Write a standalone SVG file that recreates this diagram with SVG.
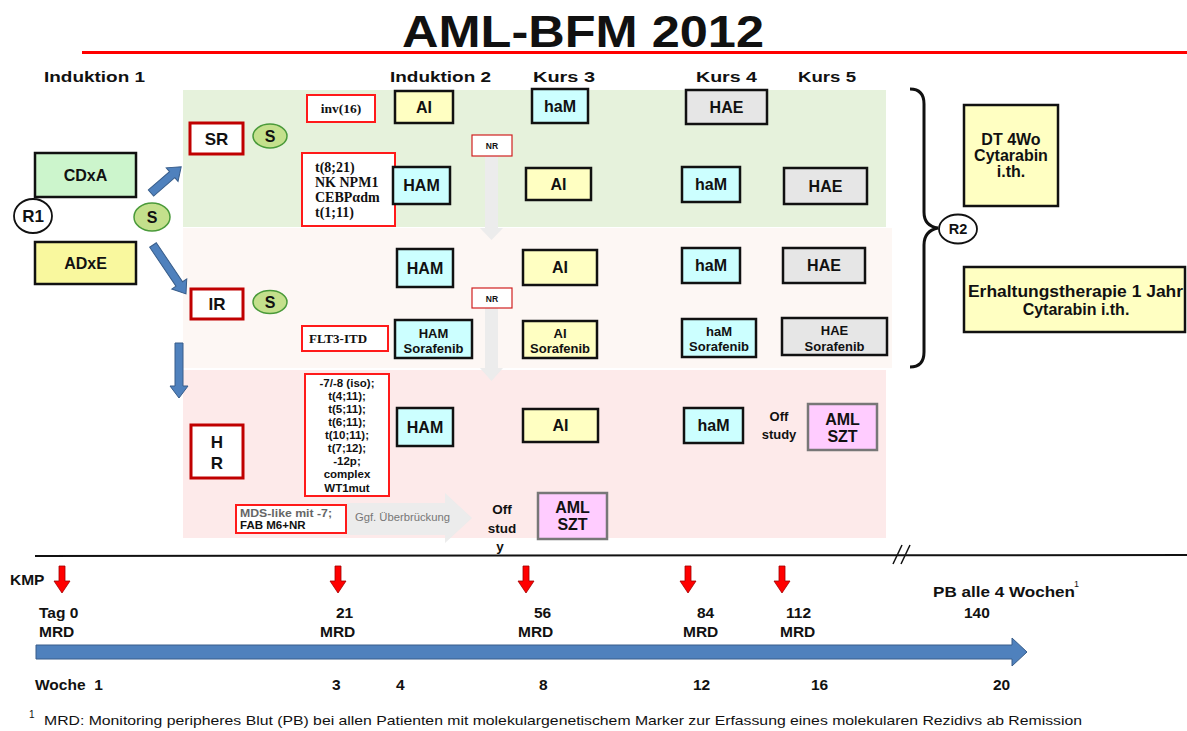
<svg xmlns="http://www.w3.org/2000/svg" width="1187" height="731" viewBox="0 0 1187 731">
<defs>
<style>
.b{font-family:"Liberation Sans",Arial,sans-serif;font-weight:bold;fill:#111}
.sf{font-family:"Liberation Serif","Times New Roman",serif;font-weight:bold;fill:#111}
.n{font-family:"Liberation Sans",Arial,sans-serif;fill:#111}
.tb{stroke:#111;stroke-width:2.5}
.cy{fill:#ccffff}
.ye{fill:#ffffc2}
.gr{fill:#e6e6e6}
.pk{fill:#ffccff;stroke:#777;stroke-width:2.5}
.rb{fill:#fff;stroke:#ff1a1a;stroke-width:2}
.db{fill:#fff;stroke:#c00000;stroke-width:3}
.sc{fill:#c4e08c;stroke:#4a9a3a;stroke-width:1.5}
.rc{fill:#fff;stroke:#111;stroke-width:1.8}
.ba{fill:#4f81bd;stroke:#385d8a;stroke-width:1}
.ra{fill:#ff0000;stroke:#a00000;stroke-width:0.8}
.ga{fill:#ececec}
.tl{font-size:15.5px}
</style>
</defs>
<rect width="1187" height="731" fill="#fff"/>

<!-- title -->
<text class="b" x="402" y="47" font-size="45" textLength="362" lengthAdjust="spacingAndGlyphs">AML-BFM 2012</text>
<line x1="82" y1="52.5" x2="1187" y2="52.5" stroke="#ff0000" stroke-width="3"/>

<!-- headers -->
<g id="headers">
<text class="b" x="44" y="82" font-size="15.5" textLength="101" lengthAdjust="spacingAndGlyphs">Induktion 1</text>
<text class="b" x="390" y="82" font-size="15.5" textLength="101" lengthAdjust="spacingAndGlyphs">Induktion 2</text>
<text class="b" x="533" y="82" font-size="15.5" textLength="62" lengthAdjust="spacingAndGlyphs">Kurs 3</text>
<text class="b" x="696" y="82" font-size="15.5" textLength="61" lengthAdjust="spacingAndGlyphs">Kurs 4</text>
<text class="b" x="798" y="82" font-size="15.5" textLength="58" lengthAdjust="spacingAndGlyphs">Kurs 5</text>
</g>

<!-- bands -->
<rect x="183" y="90" width="703" height="137" fill="#e6f2dc"/>
<rect x="183" y="228" width="709" height="140" fill="#fdf7f4"/>
<rect x="183" y="370" width="703" height="168" fill="#fdeaea"/>

<!-- connectors -->
<g id="connectors">
<polygon class="ba" points="0,-4 28,-4 28,-9 40,0 28,9 28,4 0,4" transform="translate(151,193) rotate(-41)"/>
<polygon class="ba" points="0,-4 47,-4 47,-9 59,0 47,9 47,4 0,4" transform="translate(153,245) rotate(56)"/>
<polygon class="ba" points="0,-4 43,-4 43,-9 55,0 43,9 43,4 0,4" transform="translate(179,343) rotate(90)"/>
<polygon class="ga" points="485,156 498,156 498,228 503,228 491.5,240 480,228 485,228"/>
<polygon class="ga" points="485,308 498,308 498,368 503,368 491.5,381 480,368 485,368"/>
<polygon class="ga" points="347,503 445,503 445,493 472,518 445,543 445,535 347,535"/>
<path d="M910 89 Q924 89 924 104 L924 212 Q924 226 938 228 Q924 231 924 245 L924 352 Q924 367 910 367" fill="none" stroke="#111" stroke-width="3"/>
</g>

<!-- induction 1 -->
<g id="R1"><ellipse class="rc" cx="33" cy="216" rx="19" ry="17"/><text class="b" x="33" y="222" font-size="17" text-anchor="middle">R1</text></g>
<g id="CDxA"><rect class="tb" x="35" y="153" width="101" height="44" fill="#ccf5cc"/><text class="b" x="85.5" y="181" font-size="16" text-anchor="middle">CDxA</text></g>
<g id="ADxE"><rect class="tb" x="35" y="242" width="101" height="42" fill="#f9f89e"/><text class="b" x="85.5" y="269" font-size="16" text-anchor="middle">ADxE</text></g>
<g id="S0"><ellipse class="sc" cx="152" cy="217" rx="18" ry="14"/><text class="b" x="152" y="223" font-size="16" text-anchor="middle">S</text></g>

<!-- risk groups -->
<g id="SR"><rect class="db" x="190" y="123" width="53" height="31"/><text class="b" x="216.5" y="145" font-size="17" text-anchor="middle">SR</text></g>
<g id="S1"><ellipse class="sc" cx="270" cy="136" rx="17" ry="12"/><text class="b" x="270" y="142" font-size="16" text-anchor="middle">S</text></g>
<g id="IR"><rect class="db" x="191" y="289" width="52" height="30"/><text class="b" x="217" y="310" font-size="17" text-anchor="middle">IR</text></g>
<g id="S2"><ellipse class="sc" cx="270" cy="302" rx="17" ry="11.5"/><text class="b" x="270" y="308" font-size="16" text-anchor="middle">S</text></g>
<g id="HR"><rect class="db" x="191" y="425" width="52" height="53"/><text class="b" x="217" y="448" font-size="17" text-anchor="middle">H</text><text class="b" x="217" y="469" font-size="17" text-anchor="middle">R</text></g>

<!-- markers -->
<g id="inv16"><rect class="rb" x="307" y="95" width="68" height="27"/><text class="sf" x="341" y="113" font-size="13.5" text-anchor="middle">inv(16)</text></g>
<g id="sr-markers"><rect class="rb" x="302" y="153" width="93" height="73"/>
<text class="sf" x="315" y="172" font-size="14">t(8;21)</text>
<text class="sf" x="315" y="187" font-size="14">NK NPM1</text>
<text class="sf" x="315" y="202" font-size="14">CEBPαdm</text>
<text class="sf" x="315" y="217" font-size="14">t(1;11)</text></g>
<g id="flt3"><rect class="rb" x="302" y="326" width="86" height="25"/><text class="sf" x="309" y="343" font-size="13">FLT3-ITD</text></g>
<g id="hr-markers"><rect class="rb" x="305" y="374" width="84" height="122"/>
<g class="b" font-size="11.5" text-anchor="middle">
<text x="347" y="387">-7/-8  (iso);</text>
<text x="347" y="400">t(4;11);</text>
<text x="347" y="413">t(5;11);</text>
<text x="347" y="426">t(6;11);</text>
<text x="347" y="439">t(10;11);</text>
<text x="347" y="452">t(7;12);</text>
<text x="347" y="465">-12p;</text>
<text x="347" y="478">complex</text>
<text x="347" y="492">WT1mut</text>
</g></g>
<g id="mds"><rect class="rb" x="236" y="505" width="110" height="28"/>
<text class="b" x="240" y="517" font-size="11.5" style="fill:#666" textLength="92" lengthAdjust="spacingAndGlyphs">MDS-like mit -7;</text>
<text class="b" x="240" y="529" font-size="11.5">FAB  M6+NR</text></g>
<text class="n" x="355" y="521" font-size="11" style="fill:#777" textLength="95" lengthAdjust="spacingAndGlyphs">Ggf. Überbrückung</text>

<!-- NR -->
<g id="NR1"><rect x="472" y="135" width="40" height="21" fill="#fff" stroke="#d02020" stroke-width="1.2"/><text class="b" x="492" y="149" font-size="8.5" text-anchor="middle">NR</text></g>
<g id="NR2"><rect x="472" y="288" width="40" height="20" fill="#fff" stroke="#d02020" stroke-width="1.2"/><text class="b" x="492" y="302" font-size="8.5" text-anchor="middle">NR</text></g>

<!-- SR treatments -->
<g id="sr-ai"><rect class="tb ye" x="395" y="91" width="58" height="32"/><text class="b" x="424" y="113" font-size="16" text-anchor="middle">AI</text></g>
<g id="sr-ham1"><rect class="tb cy" x="532" y="89" width="56" height="34"/><text class="b" x="560" y="112" font-size="16" text-anchor="middle">haM</text></g>
<g id="sr-hae1"><rect class="tb gr" x="686" y="90" width="81" height="34"/><text class="b" x="726.5" y="113" font-size="16" text-anchor="middle">HAE</text></g>
<g id="sr-HAM"><rect class="tb cy" x="393" y="167" width="57" height="37"/><text class="b" x="421.5" y="191" font-size="16" text-anchor="middle">HAM</text></g>
<g id="sr-ai2"><rect class="tb ye" x="526" y="168" width="65" height="32"/><text class="b" x="558.5" y="190" font-size="16" text-anchor="middle">AI</text></g>
<g id="sr-ham2"><rect class="tb cy" x="682" y="167" width="58" height="35"/><text class="b" x="711" y="190" font-size="16" text-anchor="middle">haM</text></g>
<g id="sr-hae2"><rect class="tb gr" x="784" y="168" width="83" height="36"/><text class="b" x="825.5" y="192" font-size="16" text-anchor="middle">HAE</text></g>

<!-- IR treatments -->
<g id="ir-HAM"><rect class="tb cy" x="397" y="249" width="56" height="38"/><text class="b" x="425" y="274" font-size="16" text-anchor="middle">HAM</text></g>
<g id="ir-ai"><rect class="tb ye" x="523" y="250" width="74" height="35"/><text class="b" x="560" y="273" font-size="16" text-anchor="middle">AI</text></g>
<g id="ir-ham"><rect class="tb cy" x="682" y="248" width="58" height="35"/><text class="b" x="711" y="271" font-size="16" text-anchor="middle">haM</text></g>
<g id="ir-hae"><rect class="tb gr" x="783" y="248" width="82" height="35"/><text class="b" x="824" y="271" font-size="16" text-anchor="middle">HAE</text></g>
<g id="ir-HAM-s"><rect class="tb cy" x="395" y="320" width="77" height="38"/><text class="b" x="433.5" y="338" font-size="13" text-anchor="middle">HAM</text><text class="b" x="433.5" y="353" font-size="13" text-anchor="middle">Sorafenib</text></g>
<g id="ir-ai-s"><rect class="tb ye" x="523" y="321" width="74" height="37"/><text class="b" x="560" y="338" font-size="13" text-anchor="middle">AI</text><text class="b" x="560" y="353" font-size="13" text-anchor="middle">Sorafenib</text></g>
<g id="ir-ham-s"><rect class="tb cy" x="682" y="319" width="74" height="38"/><text class="b" x="719" y="336" font-size="13" text-anchor="middle">haM</text><text class="b" x="719" y="351" font-size="13" text-anchor="middle">Sorafenib</text></g>
<g id="ir-hae-s"><rect class="tb gr" x="782" y="318" width="105" height="37"/><text class="b" x="834.5" y="335" font-size="13" text-anchor="middle">HAE</text><text class="b" x="834.5" y="351" font-size="13" text-anchor="middle">Sorafenib</text></g>

<!-- HR treatments -->
<g id="hr-HAM"><rect class="tb cy" x="397" y="408" width="56" height="38"/><text class="b" x="425" y="433" font-size="16" text-anchor="middle">HAM</text></g>
<g id="hr-ai"><rect class="tb ye" x="523" y="409" width="75" height="33"/><text class="b" x="560.5" y="431" font-size="16" text-anchor="middle">AI</text></g>
<g id="hr-ham"><rect class="tb cy" x="684" y="408" width="59" height="35"/><text class="b" x="713.5" y="431" font-size="16" text-anchor="middle">haM</text></g>
<g id="offstudy1"><text class="b" x="779" y="421" font-size="13" text-anchor="middle">Off</text><text class="b" x="779" y="439" font-size="13" text-anchor="middle">study</text></g>
<g id="aml-szt1"><rect class="pk" x="808" y="404" width="69" height="46"/><text class="b" x="842.5" y="425" font-size="16" text-anchor="middle">AML</text><text class="b" x="842.5" y="442" font-size="16" text-anchor="middle">SZT</text></g>
<g id="offstudy2"><text class="b" x="502" y="514" font-size="13.5" text-anchor="middle">Off</text><text class="b" x="502" y="533" font-size="13.5" text-anchor="middle">stud</text><text class="b" x="500" y="551" font-size="13.5" text-anchor="middle">y</text></g>
<g id="aml-szt2"><rect class="pk" x="538" y="493" width="69" height="46"/><text class="b" x="572.5" y="513" font-size="16" text-anchor="middle">AML</text><text class="b" x="572.5" y="530" font-size="16" text-anchor="middle">SZT</text></g>

<!-- R2 -->
<g id="R2"><ellipse class="rc" cx="958" cy="229" rx="19" ry="14.5"/><text class="b" x="958" y="234" font-size="14.5" text-anchor="middle">R2</text></g>
<g id="DT"><rect class="tb ye" x="964" y="105" width="94" height="101"/>
<text class="b" x="1011" y="145" font-size="16" text-anchor="middle">DT 4Wo</text>
<text class="b" x="1011" y="161" font-size="16" text-anchor="middle">Cytarabin</text>
<text class="b" x="1011" y="177" font-size="16" text-anchor="middle">i.th.</text></g>
<g id="Erhaltung"><rect class="tb ye" x="964" y="267" width="221" height="65"/>
<text class="b" x="968" y="297" font-size="16" textLength="215" lengthAdjust="spacingAndGlyphs">Erhaltungstherapie 1 Jahr</text>
<text class="b" x="1076" y="315" font-size="16" text-anchor="middle">Cytarabin  i.th.</text></g>

<!-- timeline -->
<g id="timeline">
<line x1="35" y1="556" x2="1187" y2="555" stroke="#111" stroke-width="2"/>
<line x1="893" y1="564" x2="902" y2="545" stroke="#111" stroke-width="1.5"/>
<line x1="901" y1="564" x2="910" y2="545" stroke="#111" stroke-width="1.5"/>
<text class="b tl" x="10" y="585">KMP</text>
<polygon class="ra" points="59,566 65,566 65,581 70,581 62,593 54,581 59,581"/>
<polygon class="ra" points="335,566 341,566 341,581 346,581 338,593 330,581 335,581"/>
<polygon class="ra" points="523,566 529,566 529,581 534,581 526,593 518,581 523,581"/>
<polygon class="ra" points="685,566 691,566 691,581 696,581 688,593 680,581 685,581"/>
<polygon class="ra" points="779,566 785,566 785,581 790,581 782,593 774,581 779,581"/>
<text class="b tl" x="39" y="618">Tag 0</text>
<text class="b tl" x="39" y="637">MRD</text>
<text class="b tl" x="336" y="618">21</text>
<text class="b tl" x="320" y="637">MRD</text>
<text class="b tl" x="534" y="618">56</text>
<text class="b tl" x="518" y="637">MRD</text>
<text class="b tl" x="697" y="618">84</text>
<text class="b tl" x="683" y="637">MRD</text>
<text class="b tl" x="786" y="618">112</text>
<text class="b tl" x="780" y="637">MRD</text>
<text class="b" x="933" y="597" font-size="14.5" textLength="142" lengthAdjust="spacingAndGlyphs">PB alle 4 Wochen</text>
<text class="n" x="1074" y="587" font-size="9">1</text>
<text class="b tl" x="964" y="618">140</text>
<polygon class="ba" points="36,645 1012,645 1012,638 1027,652 1012,666 1012,659 36,659"/>
<text class="b tl" x="35" y="690" xml:space="preserve">Woche  1</text>
<text class="b tl" x="332" y="690">3</text>
<text class="b tl" x="396" y="690">4</text>
<text class="b tl" x="539" y="690">8</text>
<text class="b tl" x="693" y="690">12</text>
<text class="b tl" x="811" y="690">16</text>
<text class="b tl" x="993" y="690">20</text>
</g>

<!-- footnote -->
<text class="n" x="29" y="718" font-size="10">1</text>
<text class="n" x="44" y="725" font-size="13" textLength="1038" lengthAdjust="spacingAndGlyphs">MRD: Monitoring peripheres  Blut (PB) bei allen Patienten mit molekulargenetischem Marker zur Erfassung eines molekularen Rezidivs ab Remission</text>
</svg>
